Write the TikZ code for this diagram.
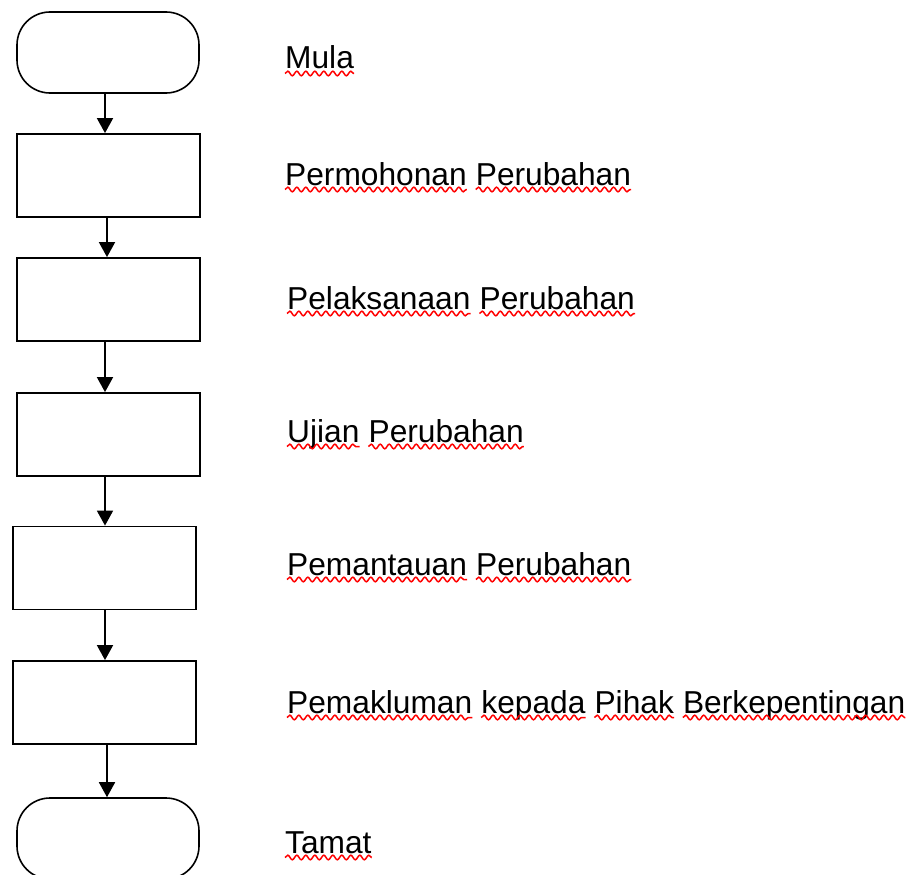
\documentclass[tikz,border=0pt]{standalone}
\usepackage{fontspec}
\setmainfont{Liberation Sans}
\usetikzlibrary{arrows.meta,decorations.pathmorphing,calc}
\begin{document}
\begin{tikzpicture}[x=1pt,y=-1pt,
 box/.style={draw, line width=1.8pt, minimum width=183pt, minimum height=83pt, inner sep=0pt},
 term/.style={draw, line width=1.6pt, rounded corners=33pt, minimum width=182pt, minimum height=81pt, inner sep=0pt},
 arr/.style={line width=1.8pt, -{Triangle[width=16pt,length=15pt]}},
 lbl/.style={anchor=base west, inner sep=0pt, font=\fontsize{31.7}{38}\selectfont},
 sq/.style={red, line width=1.5pt, decorate, decoration={snake, amplitude=2.3pt, segment length=9pt}}]
\useasboundingbox (0,0) rectangle (916,875);
\clip (0,0) rectangle (916,875);
\fill[white] (0,0) rectangle (916,875);
% shapes
\node[term] (s)  at (108,52.5) {};
\node[box]  (b1) at (108.5,175.5) {};
\node[box]  (b2) at (108.5,299.5) {};
\node[box]  (b3) at (108.5,434.5) {};
\node[box]  (b4) at (104.5,568) {};
\node[box]  (b5) at (104.5,702.5) {};
\node[term] (e)  at (108,838.5) {};
\coordinate (xa) at (105,0);
\coordinate (xb) at (107,0);
% connectors
\draw[arr] (s.south -| xa) -- (b1.north -| xa);
\draw[arr] (b1.south -| xb) -- (b2.north -| xb);
\draw[arr] (b2.south -| xa) -- (b3.north -| xa);
\draw[arr] (b3.south -| xa) -- (b4.north -| xa);
\draw[arr] (b4.south -| xa) -- (b5.north -| xa);
\draw[arr] (b5.south -| xb) -- (e.north -| xb);
% labels
\node[lbl] (l1a) at (285,69) {Mula};
\node[lbl] (l2a) at (285,185) {Permohonan};
\node[lbl] (l2b) at ([xshift=8.8pt]l2a.base east) {Perubahan};
\node[lbl] (l3a) at (287,309) {Pelaksanaan};
\node[lbl] (l3b) at ([xshift=8.8pt]l3a.base east) {Perubahan};
\node[lbl] (l4a) at (287,442) {Ujian};
\node[lbl] (l4b) at ([xshift=8.8pt]l4a.base east) {Perubahan};
\node[lbl] (l5a) at (287,575) {Pemantauan};
\node[lbl] (l5b) at ([xshift=8.8pt]l5a.base east) {Perubahan};
\node[lbl] (l6a) at (287,713) {Pemakluman};
\node[lbl] (l6b) at ([xshift=8.8pt]l6a.base east) {kepada};
\node[lbl] (l6c) at ([xshift=8.8pt]l6b.base east) {Pihak};
\node[lbl] (l6d) at ([xshift=8.8pt]l6c.base east) {Berkepentingan};
\node[lbl] (l7a) at (285,853) {Tamat};
% spell-check squiggles
\foreach \w in {l1a,l2a,l2b,l3a,l3b,l4a,l4b,l5a,l5b,l6a,l6b,l6c,l6d,l7a}{
  \draw[sq] ([yshift=-4.5pt]\w.base west) -- ([yshift=-4.5pt]\w.base east);
}
\end{tikzpicture}
\end{document}
